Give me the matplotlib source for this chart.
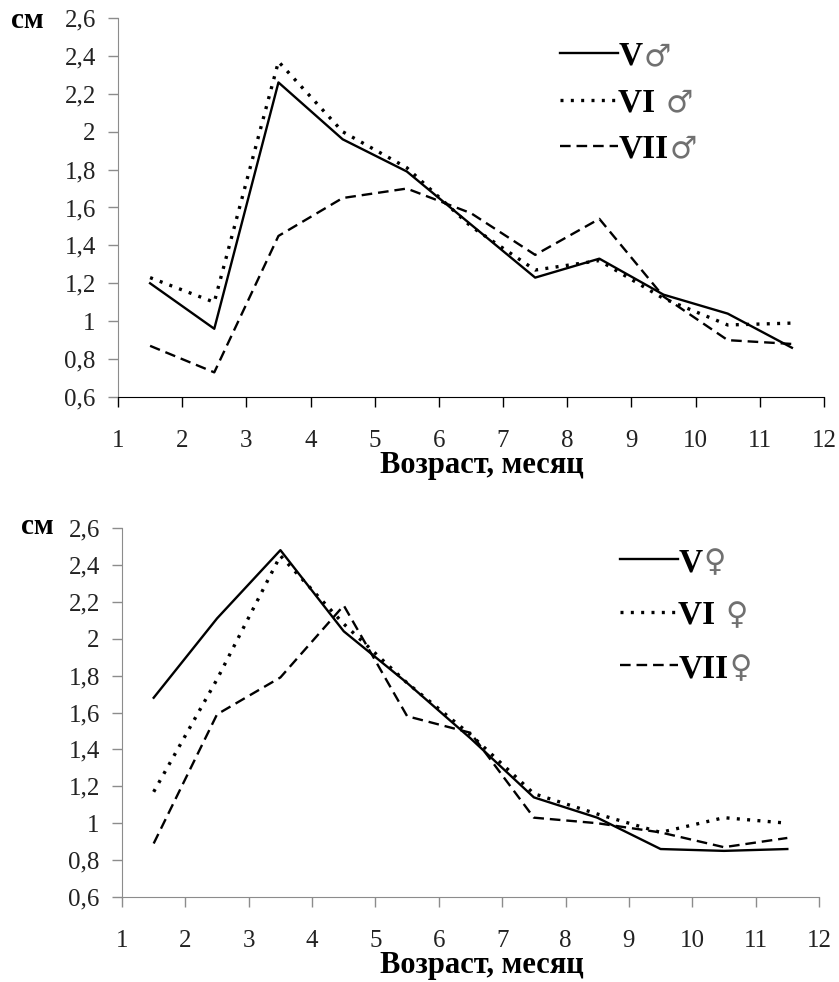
import matplotlib
matplotlib.use("Agg")
import matplotlib.pyplot as plt
from matplotlib.ticker import FuncFormatter

plt.rcParams['font.family'] = ['Liberation Serif', 'DejaVu Sans']

# возраст (середина месяца)
months = [1.5, 2.5, 3.5, 4.5, 5.5, 6.5, 7.5, 8.5, 9.5, 10.5, 11.5]

# самцы
v_male = [1.20, 0.96, 2.26, 1.96, 1.79, 1.51, 1.23, 1.33, 1.14, 1.04, 0.86]
vi_male = [1.23, 1.10, 2.37, 2.00, 1.81, 1.50, 1.27, 1.32, 1.12, 0.98, 0.99]
vii_male = [0.87, 0.73, 1.45, 1.65, 1.70, 1.57, 1.35, 1.54, 1.13, 0.90, 0.88]

# самки
v_female = [1.68, 2.11, 2.48, 2.04, 1.76, 1.46, 1.14, 1.03, 0.86, 0.85, 0.86]
vi_female = [1.17, 1.78, 2.45, 2.08, 1.76, 1.48, 1.16, 1.05, 0.95, 1.03, 1.00]
vii_female = [0.89, 1.59, 1.79, 2.18, 1.58, 1.49, 1.03, 1.00, 0.95, 0.87, 0.92]

groups = ['V', 'VI ', 'VII']
male_sign = '\u2642'
female_sign = '\u2640'

x_ticks = list(range(1, 13))
y_ticks = [0.6, 0.8, 1.0, 1.2, 1.4, 1.6, 1.8, 2.0, 2.2, 2.4, 2.6]

styles = [
    dict(linestyle='-', linewidth=1.7),
    dict(linestyle=(0, (0.9, 2.2)), linewidth=2.4),
    dict(linestyle=(0, (4.5, 2.5)), linewidth=1.7),
]


def comma(v, pos):
    s = ('%.1f' % v).replace('.', ',')
    if s.endswith(',0'):
        s = s[:-2]
    return s


def draw(ax, series, sign, bottom_color, legend_anchor, spacing):
    for ys, lab, st in zip(series, groups, styles):
        ax.plot(months, ys, color='black', label=lab, **st)
    ax.set_xlim(1, 12)
    ax.set_ylim(0.6, 2.6)
    ax.set_xticks(x_ticks)
    ax.set_yticks(y_ticks)
    ax.yaxis.set_major_formatter(FuncFormatter(comma))
    for s in ['top', 'right']:
        ax.spines[s].set_visible(False)
    ax.spines['left'].set_color('#8c8c8c')
    ax.spines['bottom'].set_color(bottom_color)
    ax.tick_params(axis='x', direction='out', length=7, width=1,
                   color=bottom_color, pad=17, labelsize=18)
    ax.tick_params(axis='y', direction='out', length=7, width=1,
                   color='#8c8c8c', pad=9, labelsize=18)
    for t in ax.get_xticklabels() + ax.get_yticklabels():
        t.set_color('#222222')
    leg = ax.legend(loc='upper left', bbox_to_anchor=legend_anchor,
                    bbox_transform=fig.transFigure, frameon=False,
                    prop=dict(family='Liberation Serif', weight='bold', size=24),
                    handlelength=1.75, handletextpad=0.0, labelspacing=spacing,
                    borderaxespad=0, borderpad=0)
    # знак пола тонким шрифтом сразу после номера (рисуется после легенды)
    for t in leg.get_texts():
        ax.annotate(sign, xy=(1, 0.5), xycoords=t, xytext=(1, 0),
                    textcoords='offset points', ha='left', va='center',
                    family='DejaVu Sans', fontsize=22, color='#707070',
                    zorder=10)
    return leg


fig = plt.figure(figsize=(8.39, 9.82), dpi=100)

ax1 = fig.add_axes([118 / 839, 1 - 397 / 982, 706 / 839, 379 / 982])
draw(ax1, [v_male, vi_male, vii_male], male_sign, 'black',
     (560 / 839, 1 - 41 / 982), 0.46)

ax2 = fig.add_axes([122 / 839, 1 - 897 / 982, 697 / 839, 369 / 982])
draw(ax2, [v_female, vi_female, vii_female], female_sign, '#8c8c8c',
     (620 / 839, 1 - 547 / 982), 0.66)

fig.text(482 / 839, 1 - 466 / 982, 'Возраст, месяц', ha='center', va='center',
         fontsize=22, fontweight='bold')
fig.text(482 / 839, 1 - 966 / 982, 'Возраст, месяц', ha='center', va='center',
         fontsize=22, fontweight='bold')
fig.text(11 / 839, 1 - 21 / 982, 'см', ha='left', va='center',
         fontsize=21, fontweight='bold')
fig.text(21 / 839, 1 - 527 / 982, 'см', ha='left', va='center',
         fontsize=21, fontweight='bold')

fig.savefig('out.png', dpi=100, facecolor='white')
